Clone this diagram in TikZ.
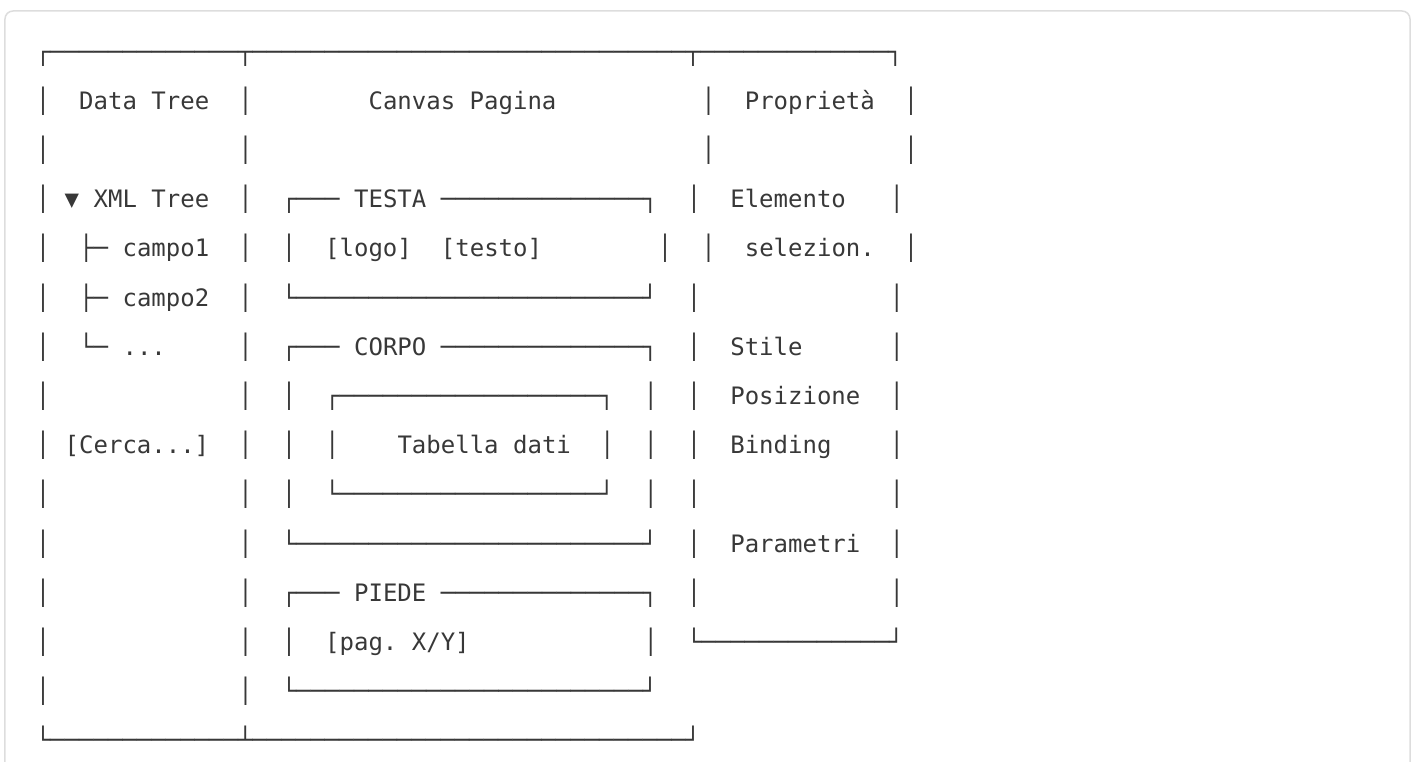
\documentclass[tikz,border=0pt]{standalone}
\usepackage{fontspec}
\newfontfamily\codefont{DejaVu Sans Mono}
\usetikzlibrary{positioning}
\definecolor{ink}{HTML}{383838}
\definecolor{codeframe}{HTML}{DDDDDD}
\tikzset{
		glyph/.style={anchor=base west, inner sep=0pt, outer sep=0pt, text=ink,
			font=\codefont\fontsize{12}{14}\selectfont\frenchspacing}
	}
\newcommand\dashes[1]{\foreach \i in {1,...,#1}{─}}

\begin{document}
\begin{tikzpicture}[x=7.235pt, y=-24.6pt] % (one unit on x = one character cell, one unit on y = one text line)
		\useasboundingbox (-2.472,-1.2195) rectangle (95.316,14.268);
		\clip (-2.472,-1.2195) rectangle (95.316,14.268);
		\draw[codeframe, line width=0.75pt, rounded corners=4pt] (-2.1265,-0.996) rectangle (94.97,15); % the code block
		% outer frame
		\node[glyph] (top) at (0,0) {┌\dashes{13}┬\dashes{30}┬\dashes{13}┐};
		\node[glyph] (bottom) at (0,14) {└\dashes{13}┴\dashes{30}┘};
		\foreach \r/\cols in {1/{0,14,46,60}, 2/{0,14,46,60}, 3/{0,14,45,59}, 4/{0,14,17,43,46,60},
		  5/{0,14,45,59}, 6/{0,14,45,59}, 7/{0,14,17,42,45,59}, 8/{0,14,17,20,39,42,45,59},
		  9/{0,14,17,42,45,59}, 10/{0,14,45,59}, 11/{0,14,45,59}, 12/{0,14,17,42}, 13/{0,14}}
		  \foreach \c in \cols
		    \node[glyph] (bar-\r-\c) at (\c,\r) {│};
		% data tree
		\node[glyph] (datatree) at (3,1) {Data Tree};
		\node[glyph] (tri) at (2,3) {▼};
		\node[glyph] (xml) at (4,3) {XML Tree};
		\node[glyph] (br1) at (3,4) {├─}; \node[glyph] (campo1) at (6,4) {campo1};
		\node[glyph] (br2) at (3,5) {├─}; \node[glyph] (campo2) at (6,5) {campo2};
		\node[glyph] (br3) at (3,6) {└─}; \node[glyph] (more) at (6,6) {...};
		\node[glyph] (cerca) at (2,8) {[Cerca...]};
		% canvas
		\node[glyph] (canvas) at (23,1) {Canvas Pagina};
		\node[glyph] (testa-l) at (17,3) {┌───}; \node[glyph] (testa) at (22,3) {TESTA}; \node[glyph] (testa-r) at (28,3) {\dashes{14}┐};
		\node[glyph] (logo) at (20,4) {[logo]}; \node[glyph] (testo) at (28,4) {[testo]};
		\node[glyph] (testa-bot) at (17,5) {└\dashes{24}┘};
		\node[glyph] (corpo-l) at (17,6) {┌───}; \node[glyph] (corpo) at (22,6) {CORPO}; \node[glyph] (corpo-r) at (28,6) {\dashes{14}┐};
		\node[glyph] (tab-top) at (20,7) {┌\dashes{18}┐};
		\node[glyph] (tabella) at (25,8) {Tabella dati};
		\node[glyph] (tab-bot) at (20,9) {└\dashes{18}┘};
		\node[glyph] (corpo-bot) at (17,10) {└\dashes{24}┘};
		\node[glyph] (piede-l) at (17,11) {┌───}; \node[glyph] (piede) at (22,11) {PIEDE}; \node[glyph] (piede-r) at (28,11) {\dashes{14}┐};
		\node[glyph] (pag) at (20,12) {[pag. X/Y]};
		\node[glyph] (piede-bot) at (17,13) {└\dashes{24}┘};
		% properties
		\node[glyph] (prop) at (49,1) {Proprietà};
		\node[glyph] (elem) at (48,3) {Elemento};
		\node[glyph] (sel) at (49,4) {selezion.};
		\node[glyph] (stile) at (48,6) {Stile};
		\node[glyph] (pos) at (48,7) {Posizione};
		\node[glyph] (bind) at (48,8) {Binding};
		\node[glyph] (param) at (48,10) {Parametri};
		\node[glyph] (prop-bot) at (45,12) {└\dashes{13}┘};
	\end{tikzpicture}
\end{document}
